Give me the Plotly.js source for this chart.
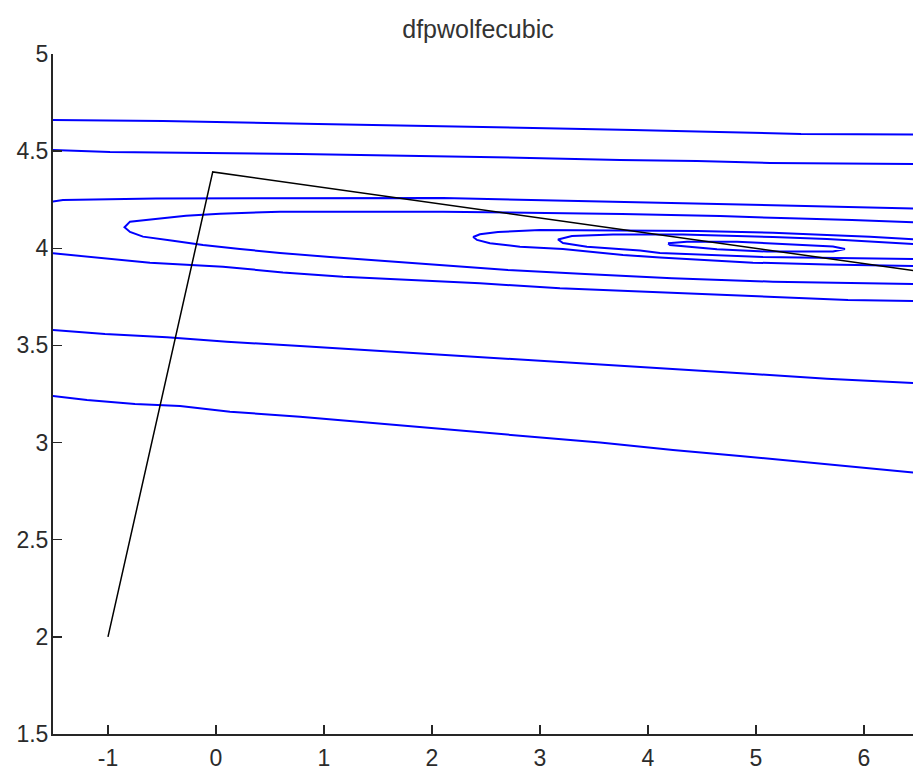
<!DOCTYPE html>
<html>
<head>
<meta charset="utf-8">
<script src="https://cdn.plot.ly/plotly-3.0.1.min.js"></script>
<style>html,body{margin:0;padding:0;background:#fff;}#chart{width:913px;height:771px;}</style>
</head>
<body>
<div id="chart"></div>
<script>
// ---- Data ----
const chartTitle = "dfpwolfecubic";

// Contour lines (open bands crossing the view)
const lineA_x = [-1.51, -0.491, 0.944, 2.046, 3.0, 3.861, 4.657, 5.417, 6.46];
const lineA_y = [4.660, 4.655, 4.640, 4.629, 4.619, 4.609, 4.599, 4.588, 4.586];

const lineB_x = [-1.51, -0.981, 0.778, 1.954, 2.907, 3.741, 4.454, 5.130, 6.46];
const lineB_y = [4.506, 4.496, 4.485, 4.475, 4.465, 4.454, 4.449, 4.439, 4.434];

const lineC_x = [-1.51, -1.417, -0.556, 0.778, 2.102, 3.676, 4.546, 5.25, 5.889, 6.46];
const lineC_y = [4.241, 4.249, 4.256, 4.259, 4.259, 4.240, 4.228, 4.219, 4.210, 4.205];

const lineD_x = [-1.51, -1.074, -0.611, 0.065, 0.620, 1.176, 1.796, 2.444, 3.185, 3.954, 4.833, 5.852, 6.46];
const lineD_y = [3.974, 3.950, 3.926, 3.905, 3.876, 3.854, 3.837, 3.820, 3.794, 3.777, 3.755, 3.734, 3.729];

// Elongated contour 1 (left tip near x=-0.85)
const ell1_x = [6.46, 5.889, 5.315, 4.667, 3.759, 2.102, 0.593, 0.037, -0.278, -0.491, -0.648, -0.796, -0.847,
                -0.796, -0.676, -0.398, -0.120, 0.222, 0.593, 1.056, 1.546, 2.102, 2.704, 3.417, 4.222, 5.157, 6.46];
const ell1_y = [4.134, 4.146, 4.154, 4.166, 4.177, 4.188, 4.188, 4.178, 4.168, 4.157, 4.146, 4.137, 4.108,
                4.084, 4.060, 4.039, 4.017, 3.996, 3.976, 3.955, 3.935, 3.914, 3.888, 3.868, 3.846, 3.828, 3.816];

// Contour 2 (left tip near x=2.38)
const ell2_x = [6.46, 6.056, 5.657, 5.157, 4.454, 3.0, 2.611, 2.444, 2.382,
                2.417, 2.537, 2.815, 3.213, 3.463, 3.769, 4.111, 4.5, 4.972, 5.657, 6.46];
const ell2_y = [4.046, 4.060, 4.068, 4.080, 4.089, 4.094, 4.084, 4.072, 4.058,
                4.043, 4.026, 4.008, 3.996, 3.982, 3.966, 3.952, 3.940, 3.926, 3.917, 3.909];

// Contour 3 (left tip near x=3.17)
const ell3_x = [6.46, 5.657, 5.157, 4.324, 3.676, 3.296, 3.167,
                3.213, 3.435, 3.926, 4.111, 4.574, 5.065, 6.46];
const ell3_y = [4.022, 4.048, 4.058, 4.071, 4.071, 4.063, 4.045,
                4.027, 4.008, 3.988, 3.976, 3.966, 3.955, 3.945];

// Innermost closed contour
const ell4_x = [4.185, 4.361, 4.824, 5.315, 5.713, 5.824, 5.713, 5.102, 4.639, 4.204, 4.185];
const ell4_y = [4.026, 4.034, 4.034, 4.022, 4.009, 3.996, 3.984, 3.983, 3.995, 4.017, 4.026];

const lineF_x = [-1.51, -1.028, -0.454, 0.102, 0.778, 3.556, 4.361, 4.972, 5.657, 6.46];
const lineF_y = [3.580, 3.559, 3.542, 3.519, 3.497, 3.404, 3.374, 3.353, 3.329, 3.307];

const lineG_x = [-1.51, -1.194, -0.75, -0.333, 0.130, 0.778, 3.556, 4.231, 4.852, 5.435, 6.037, 6.46];
const lineG_y = [3.240, 3.219, 3.199, 3.188, 3.159, 3.133, 3.000, 2.962, 2.931, 2.899, 2.869, 2.846];

// Optimisation path (iterates)
const path_x = [-1.0, -0.03, 7.0];
const path_y = [2.0, 4.393, 3.843];

// Axis ticks
const xTickVals = [-1, 0, 1, 2, 3, 4, 5, 6];
const xTickText = ["-1", "0", "1", "2", "3", "4", "5", "6"];
const yTickVals = [1.5, 2, 2.5, 3, 3.5, 4, 4.5, 5];
const yTickText = ["1.5", "2", "2.5", "3", "3.5", "4", "4.5", "5"];

// ---- Build traces ----
const contourSets = [
  [lineA_x, lineA_y], [lineB_x, lineB_y], [lineC_x, lineC_y], [lineD_x, lineD_y],
  [ell1_x, ell1_y], [ell2_x, ell2_y], [ell3_x, ell3_y], [ell4_x, ell4_y],
  [lineF_x, lineF_y], [lineG_x, lineG_y]
];
const traces = contourSets.map(function (s) {
  return {x: s[0], y: s[1], type: 'scatter', mode: 'lines',
          line: {color: '#0000ff', width: 2}, hoverinfo: 'skip'};
});
traces.push({x: path_x, y: path_y, type: 'scatter', mode: 'lines',
             line: {color: '#000000', width: 1.5}, hoverinfo: 'skip'});

const tickFont = {family: 'Liberation Sans, Arial, sans-serif', size: 23, color: '#2b2b2b'};
const axisCommon = {
  showgrid: false, zeroline: false, showline: true, linecolor: '#262626', linewidth: 2,
  ticks: 'inside', ticklen: 9, tickwidth: 1.5, tickcolor: '#262626', tickfont: tickFont,
  tickmode: 'array', fixedrange: true
};

const layout = {
  width: 913, height: 771,
  margin: {l: 53, r: 0, t: 54, b: 37, pad: 0},
  paper_bgcolor: '#ffffff', plot_bgcolor: '#ffffff',
  showlegend: false,
  title: {text: chartTitle, x: 478 / 913, xref: 'container', xanchor: 'center',
          y: 1 - 29 / 771, yref: 'container', yanchor: 'middle',
          font: {family: 'Liberation Sans, Arial, sans-serif', size: 25, color: '#333333'}},
  xaxis: Object.assign({}, axisCommon, {range: [-1.509, 6.454], tickvals: xTickVals, ticktext: xTickText,
                                        ticklabelstandoff: 2}),
  yaxis: Object.assign({}, axisCommon, {range: [1.5, 5], tickvals: yTickVals, ticktext: yTickText,
                                        ticklabelstandoff: -2})
};

Plotly.newPlot('chart', traces, layout, {staticPlot: true, displayModeBar: false});
</script>
</body>
</html>
